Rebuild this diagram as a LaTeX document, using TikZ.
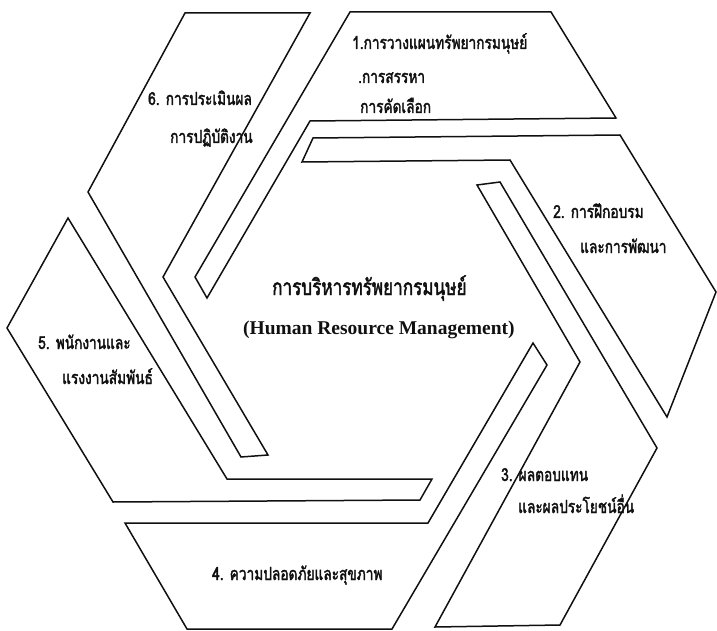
\documentclass[tikz,border=0pt]{standalone}
\usepackage{fontspec}
\usepackage{xcolor}
\usepackage{tikz}
\usetikzlibrary{positioning}
\newfontfamily\thaifont[Script=Thai,FakeStretch=0.76,FakeBold=2]{Loma}
\newfontfamily\latinfont{Liberation Serif}
\definecolor{HexInk}{HTML}{101010}

\begin{document}
\begin{tikzpicture}[x=1pt,y=-1pt,
    piece/.style={draw=HexInk,line width=1.5pt,line join=miter},
    thai/.style={text=HexInk,anchor=base west,inner sep=0pt,
      font=\thaifont\fontsize{18}{20}\selectfont},
    title/.style={thai,font=\thaifont\fontsize{22.5}{25}\selectfont}]
  \useasboundingbox (0,0) rectangle (717,631);
  % six outer pieces, each a wide band with a thin arm
  \draw[piece] (350,12) -- (551,12) -- (616,118) -- (310,121) -- (207,298) -- (195,277) -- cycle;
  \draw[piece] (313,138) -- (620,135) -- (716,292) -- (667,417) -- (510,160) -- (302,162) -- cycle;
  \draw[piece] (435,627) -- (560,625) -- (657,448) -- (500,182) -- (477,185) -- (580,362) -- cycle;
  \draw[piece] (187,629) -- (392,629) -- (547,365) -- (533,343) -- (428,523) -- (125,523) -- cycle;
  \draw[piece] (68,218) -- (7,328) -- (113,502) -- (420,500) -- (432,479) -- (227,479) -- cycle;
  \draw[piece] (185,13) -- (310,13) -- (163,277) -- (268,455) -- (241,457) -- (88,192) -- cycle;
  % labels
  \node[thai] (t1a) at (352,49) {1.การวางแผนทรัพยากรมนุษย์};
  \node[thai] (t1b) at (358,83) {.การสรรหา};
  \node[thai] (t1c) at (360,113) {การคัดเลือก};
  \node[thai] (t2a) at (553,218) {2. การฝึกอบรม};
  \node[thai] (t2b) at (580,253) {และการพัฒนา};
  \node[thai] (t3a) at (501,481) {3. ผลตอบแทน};
  \node[thai] (t3b) at (518,513) {และผลประโยชน์อื่น};
  \node[thai] (t4) at (212,580) {4. ความปลอดภัยและสุขภาพ};
  \node[thai] (t5a) at (38,349) {5. พนักงานและ};
  \node[thai] (t5b) at (62,384) {แรงงานสัมพันธ์};
  \node[thai] (t6a) at (148,105) {6. การประเมินผล};
  \node[thai] (t6b) at (170,143) {การปฏิบัติงาน};
  \node[title] (hrm) at (272,295) {การบริหารทรัพยากรมนุษย์};
  \node[anchor=base west,inner sep=0pt,text=HexInk,font=\latinfont\bfseries\fontsize{19.5}{22}\selectfont]
    (hrmen) at (243,334) {(Human Resource Management)};
\end{tikzpicture}
\end{document}
